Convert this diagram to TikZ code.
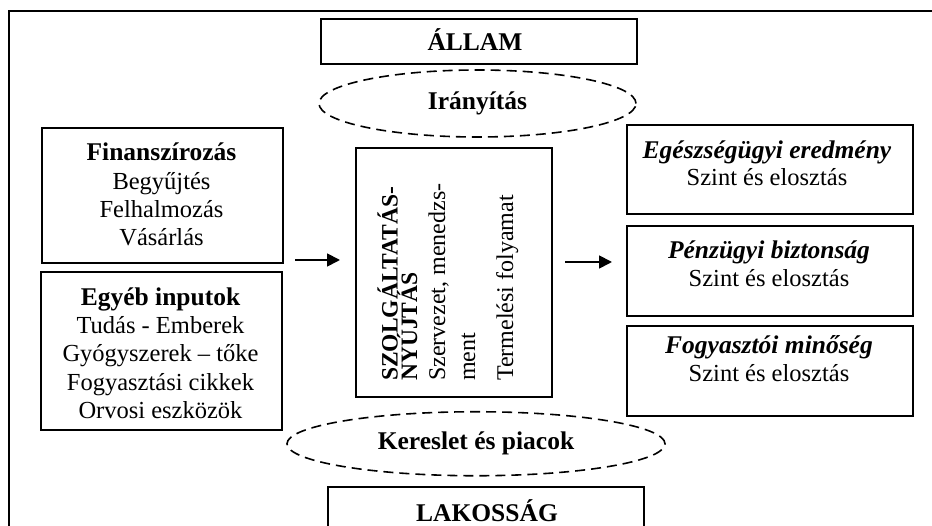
\documentclass[tikz,border=0pt]{standalone}
\usepackage{fontspec}
\setmainfont{Liberation Serif}
\usetikzlibrary{shapes.geometric,arrows.meta}
\newcommand{\diagfont}{\fontsize{24.5}{28.3}\selectfont}
\newcommand{\bt}[1]{{\fontsize{25.5}{28.3}\selectfont\bfseries #1}}
\newcommand{\bit}[1]{{\fontsize{25.5}{28.3}\selectfont\bfseries\itshape #1}}
\begin{document}
\begin{tikzpicture}[x=1pt,y=-1pt,
  box/.style={draw, line width=2pt, rectangle, inner sep=0pt, anchor=north west},
  oval/.style={draw, ellipse, dash pattern=on 10pt off 6pt, line width=1.6pt, inner sep=0pt,
               font=\fontsize{25.5}{28}\selectfont\bfseries},
  txt/.style={inner sep=0pt, anchor=north, align=center, font=\diagfont},
  vtxt/.style={inner sep=0pt, rotate=90, anchor=base west, font=\fontsize{24}{28}\selectfont},
  arr/.style={-{Triangle[length=13pt,width=13pt]}, line width=1.8pt},
]
\useasboundingbox (0,0) rectangle (932,526);
\clip (0,0) rectangle (932,526);
% outer frame
\draw[line width=2.6pt] (9,560) -- (9,11) -- (960,11);
% boxes
\node[box, minimum width=316pt, minimum height=45pt] (allam) at (320,18) {};
\node[box, minimum width=241pt, minimum height=135pt] (fin) at (41,127) {};
\node[box, minimum width=241pt, minimum height=158pt] (egyeb) at (40,271) {};
\node[box, minimum width=196pt, minimum height=249pt] (szolg) at (355,147) {};
\node[box, minimum width=286pt, minimum height=89pt] (ered) at (626,124) {};
\node[box, minimum width=286pt, minimum height=90pt] (penz) at (626,225) {};
\node[box, minimum width=286pt, minimum height=90pt] (fogy) at (626,325) {};
\node[box, minimum width=316pt, minimum height=60pt] (lak) at (327,486) {};
% ellipses
\node[oval, minimum width=317pt, minimum height=67pt] (iranyitas) at (477.5,103.5) {Irányítás};
\node[oval, minimum width=378pt, minimum height=64pt] (kereslet) at (476,443.75) {Kereslet és piacok};
% texts
\node[txt] (allamt) at (475,26.7) {\rule{0pt}{24pt}\bt{ÁLLAM}};
\node[txt] (fint) at (161.5,136.7) {\rule{0pt}{24pt}\bt{Finanszírozás}\\Begyűjtés\\Felhalmozás\\Vásárlás};
\node[txt] (egyebt) at (160.5,281) {\rule{0pt}{24pt}\bt{Egyéb inputok}\\Tudás - Emberek\\Gyógyszerek – tőke\\Fogyasztási cikkek\\Orvosi eszközök};
\node[txt] (eredt) at (767,134) {\rule{0pt}{24pt}\bit{Egészségügyi eredmény}\\[-1pt]Szint és elosztás};
\node[txt] (penzt) at (769,234) {\rule{0pt}{24pt}\bit{Pénzügyi biztonság}\\Szint és elosztás};
\node[txt] (fogyt) at (769,329) {\rule{0pt}{24pt}\bit{Fogyasztói minőség}\\Szint és elosztás};
\node[txt] (lakt) at (487,497.7) {\rule{0pt}{24pt}\bt{LAKOSSÁG}};
% rotated texts in the central box
\node[vtxt, font=\fontsize{23.5}{28}\selectfont\bfseries] (v1) at (397.5,381) {SZOLGÁLTATÁS-};
\node[vtxt, font=\fontsize{23.5}{28}\selectfont\bfseries] (v2) at (417,381) {NYÚJTÁS};
\node[vtxt] (v3) at (445,381) {Szervezet, menedzs-};
\node[vtxt] (v4) at (475,381) {ment};
\node[vtxt] (v5) at (513,381) {Termelési folyamat};
% arrows
\coordinate (a1s) at (295,260);
\coordinate (a1e) at (340,260);
\coordinate (a2s) at (565,262);
\coordinate (a2e) at (612,262);
\draw[arr] (a1s) -- (a1e);
\draw[arr] (a2s) -- (a2e);
\end{tikzpicture}
\end{document}
